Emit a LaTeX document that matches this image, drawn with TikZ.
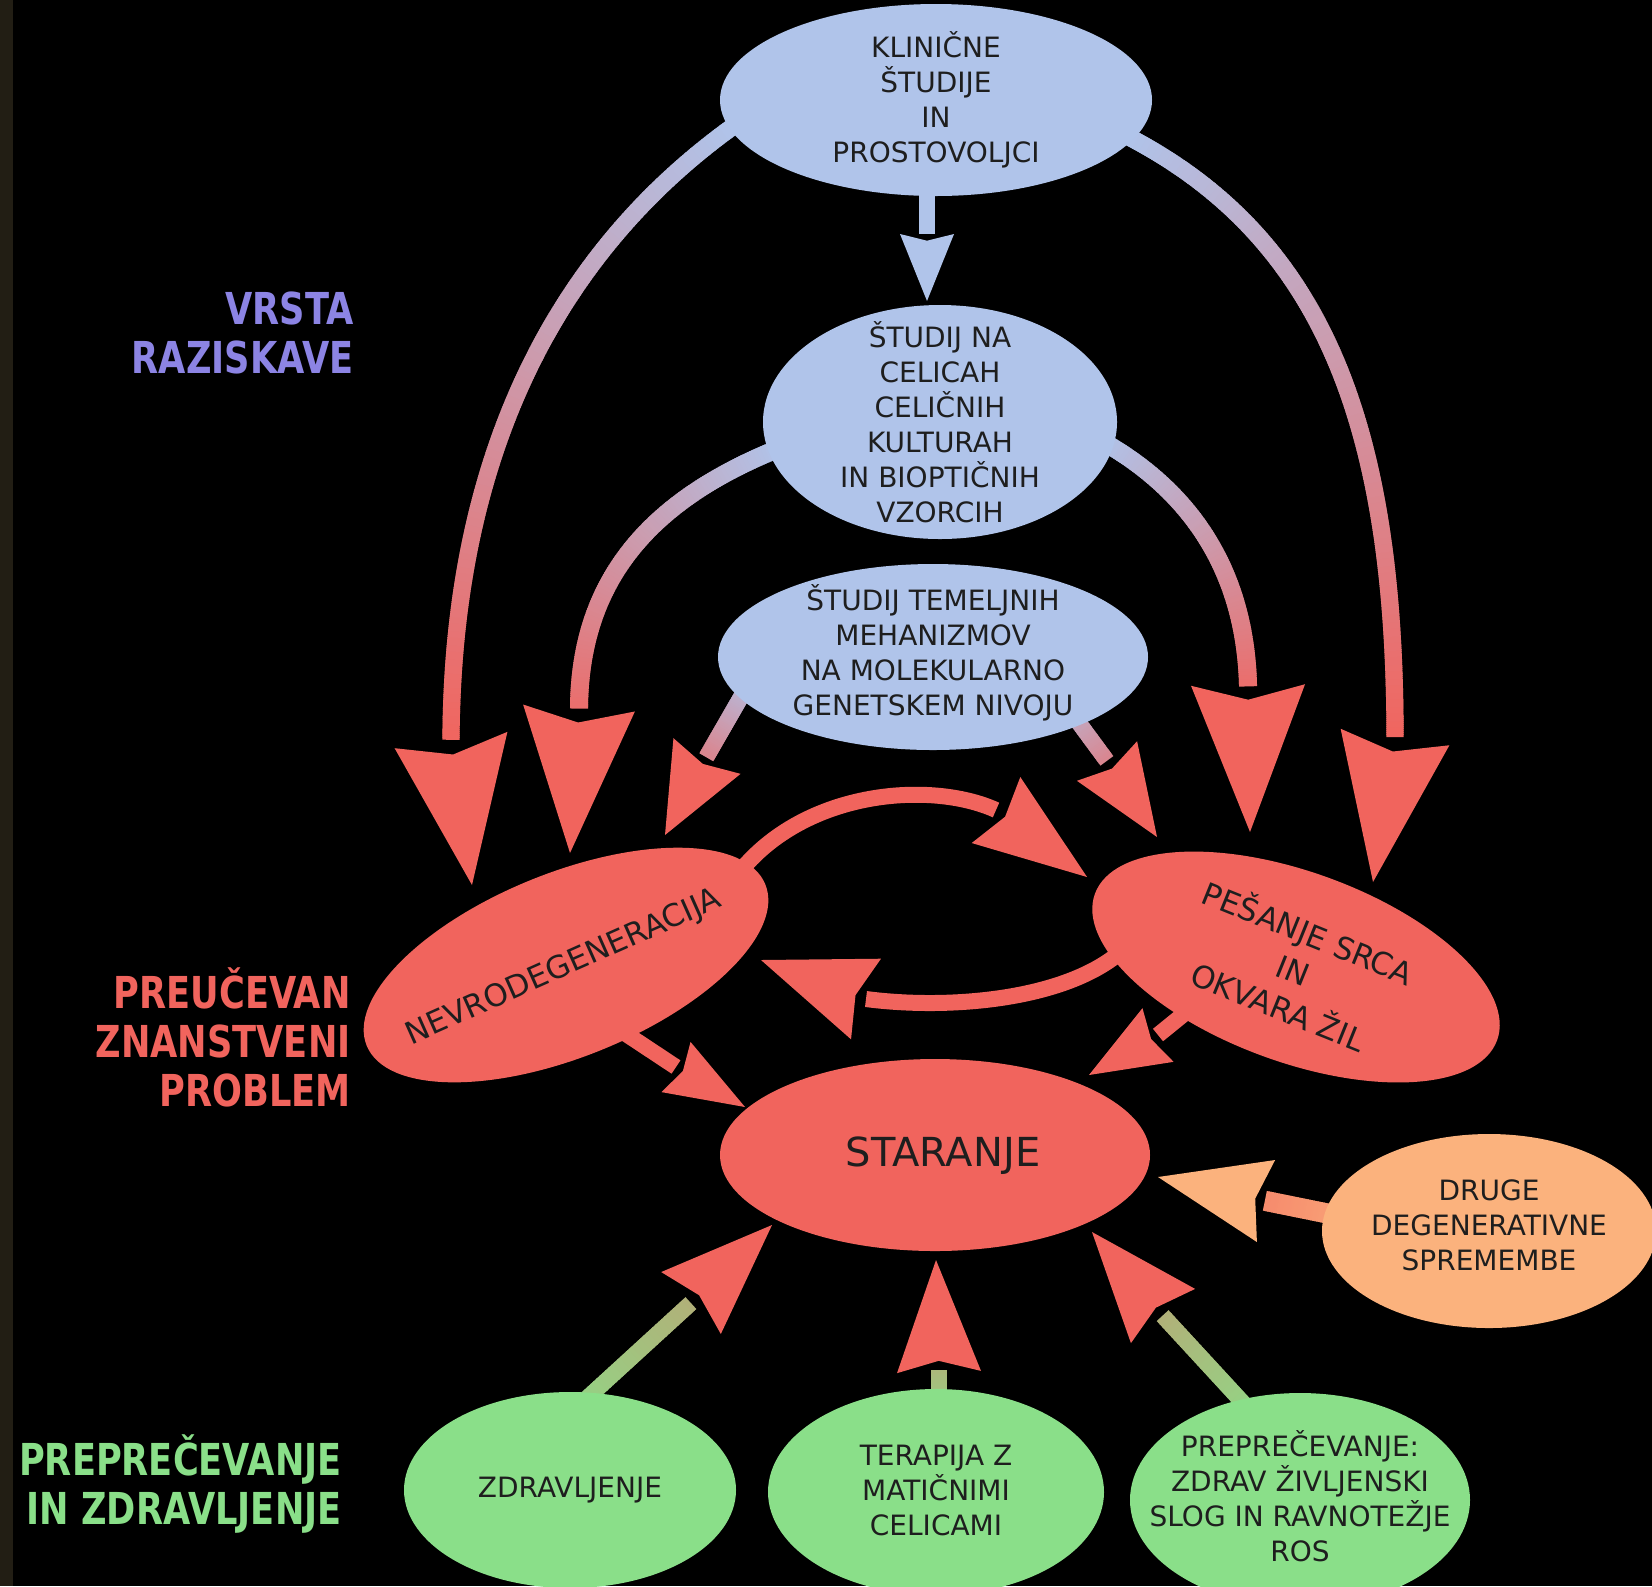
\documentclass[tikz,border=0pt]{standalone}
\usepackage{fontspec}
\setmainfont{DejaVu Sans}
\newfontfamily\labfont{DejaVu Sans}[FakeStretch=0.80]
\usetikzlibrary{shapes.geometric,calc,decorations.markings}
\definecolor{stripC}{HTML}{221E14}
\definecolor{blueE}{HTML}{B0C4EA}
\definecolor{redE}{HTML}{F1645D}
\definecolor{peachE}{HTML}{FBB27D}
\definecolor{greenE}{HTML}{8ADF89}
\definecolor{labPurple}{HTML}{8C84E4}
\definecolor{txtC}{HTML}{1E1E1E}
\pgfdeclarelayer{bg}
\pgfsetlayers{bg,main}
\tikzset{
  ell/.style={ellipse, inner sep=0pt, outer sep=0pt},
  txt/.style={text=txtC, align=center, inner sep=0pt, font=\fontsize{14pt}{17.5pt}\selectfont},
  lab/.style={align=right, anchor=east, inner sep=0pt, font=\labfont\bfseries\fontsize{22pt}{24.5pt}\selectfont},
  gshaft/.style n args={5}{decorate, decoration={markings, mark=between positions 0 and 1 step 1pt with {%
     \pgfmathsetmacro\gfr{(\pgfkeysvalueof{/pgf/decoration/mark info/distance from start})/(\pgfdecoratedpathlength)}%
     \pgfmathtruncatemacro\gp{#3+(#4-#3)*\gfr}%
     \fill[#2!\gp!#1] (-0.8pt,-#5) rectangle (0.8pt,#5);}}},
}
\newcommand\arrhead[4]{\fill[#1] (#3) -- ($(#2)!#4!90:(#3)$) -- ($(#2)!0.1!(#3)$) -- ($(#2)!#4!-90:(#3)$) -- cycle;}
\begin{document}
\begin{tikzpicture}[x=0.5pt,y=-0.5pt]
\useasboundingbox (0,0) rectangle (1652,1586);
% ellipses
\node[ell, fill=blueE, minimum width=216pt, minimum height=96pt] (kl) at (936,100) {};
\node[ell, fill=blueE, minimum width=177pt, minimum height=117pt] (cel) at (940,422) {};
\node[ell, fill=blueE, minimum width=215pt, minimum height=93pt] (tem) at (933,657) {};
\node[ell, fill=redE, minimum width=215pt, minimum height=92pt, rotate=22] (nev) at (566,965) {};
\node[ell, fill=redE, minimum width=214pt, minimum height=95pt, rotate=-20] (pes) at (1296,967) {};
\node[ell, fill=redE, minimum width=215pt, minimum height=96pt] (sta) at (935,1155) {};
\node[ell, fill=peachE, minimum width=167pt, minimum height=97pt] (dru) at (1489,1231) {};
\node[ell, fill=greenE, minimum width=166pt, minimum height=98pt] (zdr) at (570,1490) {};
\node[ell, fill=greenE, minimum width=168pt, minimum height=103pt] (ter) at (936,1492) {};
\node[ell, fill=greenE, minimum width=170pt, minimum height=107pt] (pre) at (1300,1500) {};
% texts
\node[txt] (klT) at (936,100) {KLINIČNE\\ŠTUDIJE\\IN\\PROSTOVOLJCI};
\node[txt] (celT) at (940,422) {ŠTUDIJ NA\\CELICAH\\CELIČNIH\\KULTURAH\\IN BIOPTIČNIH\\VZORCIH};
\node[txt] (temT) at (933,653) {ŠTUDIJ TEMELJNIH\\MEHANIZMOV\\NA MOLEKULARNO\\GENETSKEM NIVOJU};
\node[txt, rotate=24, font=\fontsize{15.5pt}{20pt}\selectfont] (nevT) at (564,968) {NEVRODEGENERACIJA};
\node[txt, rotate=-22, font=\fontsize{15.5pt}{20pt}\selectfont] (pesT) at (1294,968) {PEŠANJE SRCA\\IN\\OKVARA ŽIL};
\node[txt, font=\fontsize{20pt}{22pt}\selectfont] (staT) at (943,1156) {STARANJE};
\node[txt] (druT) at (1489,1225) {DRUGE\\DEGENERATIVNE\\SPREMEMBE};
\node[txt] (zdrT) at (570,1490) {ZDRAVLJENJE};
\node[txt] (terT) at (936,1490) {TERAPIJA Z\\MATIČNIMI\\CELICAMI};
\node[txt] (preT) at (1300,1496) {PREPREČEVANJE:\\ZDRAV ŽIVLJENSKI\\SLOG IN RAVNOTEŽJE\\ROS};
% side labels
\node[lab, text=labPurple] (l1) at (354,333) {VRSTA\\RAZISKAVE};
\node[lab, text=redE] (l2) at (351,1037) {PREUČEVAN\\ZNANSTVENI\\PROBLEM};
\node[lab, text=greenE] (l3) at (342,1484) {PREPREČEVANJE\\IN ZDRAVLJENJE};
% coordinates
\coordinate (a1s) at (927,180); \coordinate (a1b) at (927,234); \coordinate (a1t) at (927,301);
\coordinate (aS) at (735,125); \coordinate (aB) at (451,740); \coordinate (aT) at (472,885);
\coordinate (fS) at (1125,135); \coordinate (fB) at (1395,737); \coordinate (fT) at (1373,882);
\coordinate (bS) at (780,448); \coordinate (bB) at (579,708); \coordinate (bT) at (570,853);
\coordinate (eS) at (1100,440); \coordinate (eB) at (1248,685); \coordinate (eT) at (1250,832);
\coordinate (cS) at (745,690); \coordinate (cB) at (707,756); \coordinate (cT) at (665,835);
\coordinate (dS) at (1062,700); \coordinate (dB) at (1107,761); \coordinate (dT) at (1157,837);
\coordinate (gS) at (735,878); \coordinate (gB) at (996,810); \coordinate (gT) at (1087,877);
\coordinate (hS) at (1125,948); \coordinate (hB) at (866,999); \coordinate (hT) at (761,960);
\coordinate (iS) at (605,1020); \coordinate (iB) at (676,1067); \coordinate (iT) at (745,1107);
\coordinate (jS) at (1195,1005); \coordinate (jB) at (1158,1035); \coordinate (jT) at (1089,1075);
\coordinate (kS) at (585,1400); \coordinate (kB) at (691,1303); \coordinate (kT) at (772,1225);
\coordinate (lS) at (939,1400); \coordinate (lB) at (939,1372); \coordinate (lT) at (936,1260);
\coordinate (mS) at (1245,1405); \coordinate (mB) at (1163,1316); \coordinate (mT) at (1092,1232);
\coordinate (nS) at (1335,1215); \coordinate (nB) at (1266,1201); \coordinate (nT) at (1158,1177);
\begin{pgfonlayer}{bg}
\fill[black] (0,0) rectangle (1652,1586);
\fill[stripC] (0,0) rectangle (13,1586);
\draw[blueE, line width=8pt] (a1s) -- (a1b);
\path[gshaft={blueE}{redE}{0}{100}{4.3pt}] (aS) .. controls (560,250) and (452,450) .. (aB);
\path[gshaft={blueE}{redE}{0}{100}{4.3pt}] (fS) .. controls (1320,235) and (1395,420) .. (fB);
\path[gshaft={blueE}{redE}{0}{90}{4.5pt}] (bS) .. controls (650,500) and (580,580) .. (bB);
\path[gshaft={blueE}{redE}{0}{90}{4.5pt}] (eS) .. controls (1190,490) and (1245,570) .. (eB);
\path[gshaft={blueE}{redE}{15}{65}{4pt}] (cS) -- (cB);
\path[gshaft={blueE}{redE}{15}{65}{4pt}] (dS) -- (dB);
\draw[redE, line width=8pt] (gS) .. controls (800,790) and (930,780) .. (gB);
\draw[redE, line width=8pt] (hS) .. controls (1070,1000) and (950,1010) .. (hB);
\draw[redE, line width=8pt] (iS) -- (iB);
\draw[redE, line width=8pt] (jS) -- (jB);
\path[gshaft={greenE}{redE}{12}{38}{4pt}] (kS) -- (kB);
\path[gshaft={greenE}{redE}{18}{32}{4pt}] (lS) -- (lB);
\path[gshaft={greenE}{redE}{12}{38}{4pt}] (mS) -- (mB);
\path[gshaft={peachE}{redE}{25}{50}{5pt}] (nS) -- (nB);
\end{pgfonlayer}
% arrowheads
\arrhead{blueE}{a1b}{a1t}{13.5pt}
\arrhead{redE}{aB}{aT}{28.5pt}
\arrhead{redE}{fB}{fT}{27.5pt}
\arrhead{redE}{bB}{bT}{28pt}
\arrhead{redE}{eB}{eT}{28.5pt}
\arrhead{redE}{cB}{cT}{19pt}
\arrhead{redE}{dB}{dT}{18pt}
\arrhead{redE}{gB}{gT}{20.5pt}
\arrhead{redE}{hB}{hT}{21.5pt}
\arrhead{redE}{iB}{iT}{14.5pt}
\arrhead{redE}{jB}{jT}{15.5pt}
\arrhead{redE}{kB}{kT}{21.5pt}
\arrhead{redE}{lB}{lT}{21pt}
\arrhead{redE}{mB}{mT}{21pt}
\arrhead{peachE}{nB}{nT}{21pt}
\end{tikzpicture}
\end{document}
